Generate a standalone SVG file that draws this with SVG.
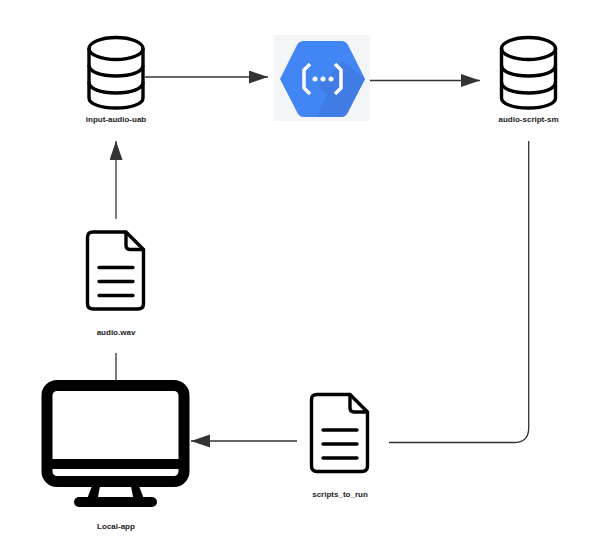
<svg xmlns="http://www.w3.org/2000/svg" width="597" height="557" viewBox="0 0 597 557">
<defs>
<filter id="soft" x="-5%" y="-5%" width="110%" height="110%"><feGaussianBlur stdDeviation="0.45"/></filter>
<marker id="arrow" markerUnits="userSpaceOnUse" markerWidth="20" markerHeight="14" refX="19" refY="6.5" orient="auto"><path d="M0 0L19 6.5L0 13Z" fill="#333"/></marker>
<g id="cyl"><path d="M-27 -25V25C-27 31 -15 35 0 35S27 31 27 25V-25" /><ellipse cx="0" cy="-24.500" rx="27" ry="11"/><path d="M-27 -8C-27 -1 -15 3 0 3S27 -1 27 -8M-27 9C-27 16 -15 20 0 20S27 16 27 9"/></g>
<g id="doc"><path d="M40 1.500H7Q1.500 1.500 1.500 7V73Q1.500 78.500 7 78.500H52Q57.500 78.500 57.500 73V19L40 1.500Z"/><path d="M40 1.500V15Q40 19 44 19H57.500"/><path d="M13 37H47M13 51H47M13 65H47" stroke-linecap="round"/></g>
</defs>
<style>
text{font-family:"Liberation Sans",Arial,sans-serif;font-size:8px;font-weight:700;fill:#222;text-anchor:middle}
.icon{fill:none;stroke:#000;stroke-width:3.400;filter:url(#soft)}
.conn{fill:none;stroke:#333;stroke-width:1.300}
</style>
<rect width="597" height="557" fill="#fff"/>
<g id="connectors">
<path class="conn" marker-end="url(#arrow)" d="M145 77H268"/>
<path class="conn" marker-end="url(#arrow)" d="M370 80.500H480"/>
<path class="conn" marker-end="url(#arrow)" d="M116 219V141"/>
<path class="conn" d="M116 353V380"/>
<path class="conn" marker-end="url(#arrow)" d="M297 441H191"/>
<path class="conn" d="M528.700 141V428Q528.700 442.500 514 442.500H389"/>
</g>
<g id="input-audio-uab"><use href="#cyl" x="116" y="73" class="icon"/><text x="116" y="122">input-audio-uab</text></g>
<g id="cloud-function">
<rect x="274" y="35" width="96" height="86" fill="#f3f5f7"/>
<path d="M280 79L297 45Q299 41 304 41H341Q346 41 348 45L365 79L348 112Q346 117 341 117H304Q299 117 297 112Z" fill="#4285f4" filter="url(#soft)"/>
<path d="M318 86L327 95L317 117H341Q346 117 348 112L365 79L343 61Z" fill="#3f77d8" opacity="0.6" filter="url(#soft)"/>
<path d="M310 64L304 70V88L310 94M335 64L341 70V88L335 94" fill="none" stroke="#fff" stroke-width="3.500" stroke-linejoin="round"/>
<circle cx="315" cy="79" r="2.500" fill="#fff"/><circle cx="323" cy="79" r="2.500" fill="#fff"/><circle cx="331" cy="79" r="2.500" fill="#fff"/>
</g>
<g id="audio-script-sm"><use href="#cyl" x="528.500" y="73" class="icon"/><text x="528.500" y="122">audio-script-sm</text></g>
<g id="audio-wav"><use href="#doc" x="86" y="230.500" class="icon"/><text x="116" y="335">audio.wav</text></g>
<g id="scripts-to-run"><use href="#doc" x="310" y="393" class="icon"/><text x="340" y="497">scripts_to_run</text></g>
<g id="local-app">
<g filter="url(#soft)">
<rect x="47" y="385.500" width="137" height="96" rx="10" fill="none" stroke="#000" stroke-width="11"/>
<rect x="44" y="459" width="143" height="10" fill="#000"/>
<path d="M92 486L87 499H144L139 486H131L133 497H98L100 486Z" fill="#000"/>
<rect x="74" y="497" width="83" height="10" rx="5" fill="#000"/>
</g>
<text x="116" y="529">Local-app</text>
</g>
</svg>
